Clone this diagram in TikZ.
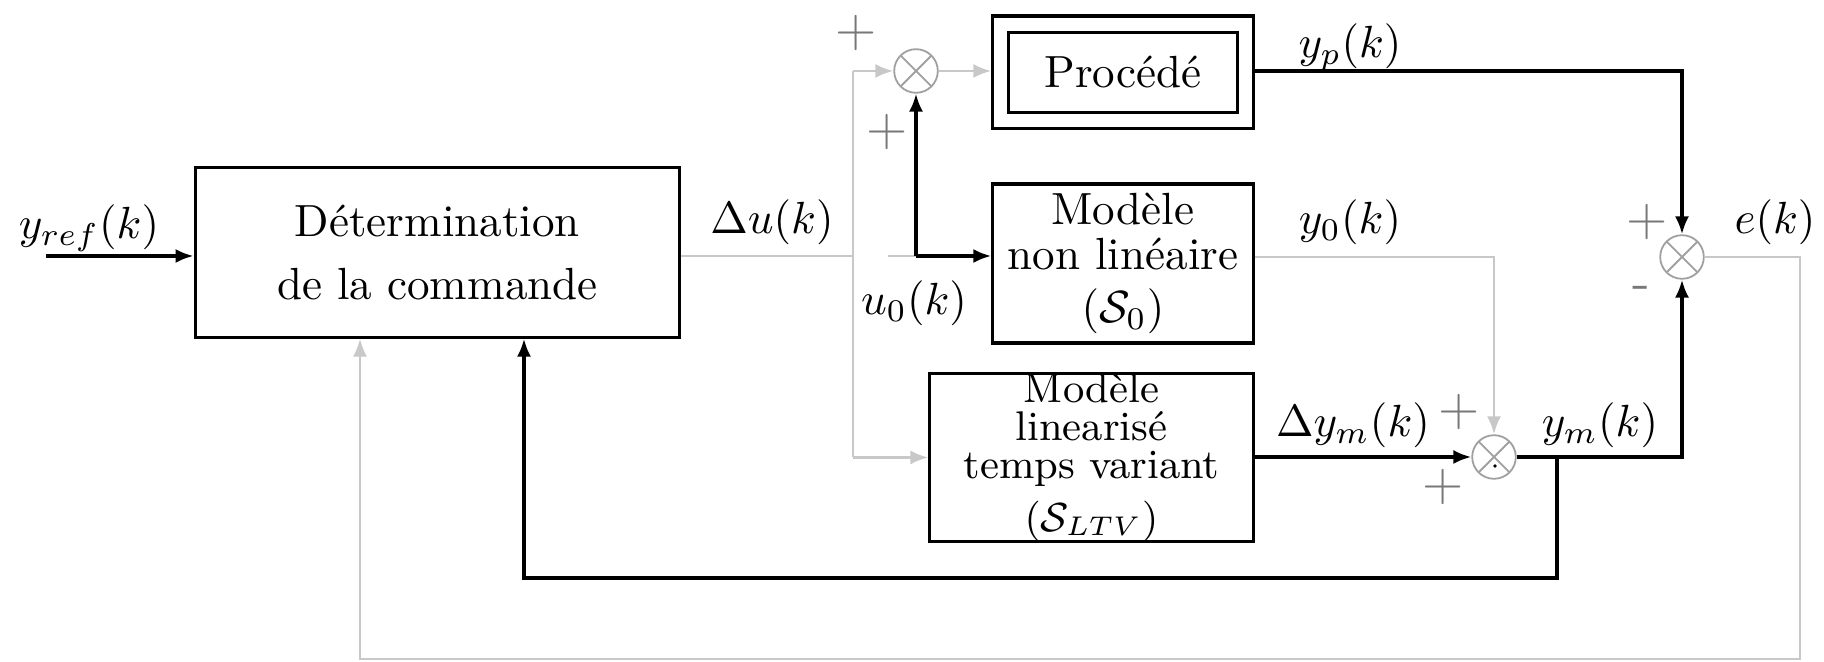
\documentclass[tikz,border=0pt]{standalone}
\usetikzlibrary{arrows.meta,calc}
\definecolor{signalColor}{RGB}{200,200,200}
\definecolor{sumColor}{RGB}{160,160,160}
\definecolor{signColor}{RGB}{120,120,120}

\begin{document}
\begin{tikzpicture}[x=0.0078cm, y=-0.0078cm,
>={Latex[length=1.4mm,width=1.1mm]},
block/.style={
    draw, line width=0.7pt, align=center, inner sep=0pt},
sumnode/.style={
    circle, draw=sumColor, minimum size=0.34cm, inner sep=0pt,
    path picture={
        \draw[sumColor] (path picture bounding box.north west)
                     -- (path picture bounding box.south east)
                        (path picture bounding box.north east)
                     -- (path picture bounding box.south west);}
},
sign/.style={text=signColor, font=\large},
wire/.style={line width=0.7pt},
grayWire/.style={signalColor, line width=0.6pt}
]

\useasboundingbox (0,0) rectangle (1824,662);

% blocs
\node[block, minimum width=3.78cm, minimum height=1.32cm,
      font=\fontsize{10}{14}\selectfont]
                                    at (437.5,252.5) (ctrl) {D\'etermination\\de la commande};
\node[block, minimum width=2.03cm, minimum height=0.88cm]
                                    at (1123,72.5) (procOut) {};
\node[block, minimum width=1.79cm, minimum height=0.62cm]
                                    at (procOut) (proc) {Proc\'ed\'e};
\node[block, minimum width=2.03cm, minimum height=1.24cm,
      font=\fontsize{10}{10}\selectfont]
                                    at (1123,263.5) (nonlin) {Mod\`ele\\non lin\'eaire\\[1.8pt]$(\mathcal{S}_0)$};
\node[block, minimum width=2.52cm, minimum height=1.27cm,
      font=\fontsize{9.2}{8.4}\selectfont]
                                    at (1091.5,457.5) (ltv) {Mod\`ele\\linearis\'e\\temps variant\\[2.2pt]$(\mathcal{S}_{LTV})$};

% sommateurs
\node[sumnode] at (916,71) (sum1) {};
\node[sumnode] at (1682,257) (sum2) {};
\node[sumnode] at (1494,457) (sum3) {};
\fill[black] (1495,466) circle (0.4pt);

\coordinate (yrefIn) at (46,256);
\coordinate (du) at (853,256);
\coordinate (u0) at (888,256);
\coordinate (u0Split) at (916,256);
\coordinate (ymSplit) at (1557,457);
\coordinate (ymBack) at (524,578);
\coordinate (eCorner) at (1800,659);
\coordinate (eBack) at (360,659);

% signaux
\draw[wire, ->] (yrefIn) -- (ctrl.west |- yrefIn);
\draw[grayWire] (ctrl.east |- du) -- (du);
\draw[grayWire] (sum1.west -| du) -- (du |- ltv.west);
\draw[grayWire, ->] (sum1.west -| du) -- (sum1.west);
\draw[grayWire, ->] (du |- ltv.west) -- (ltv.west);
\draw[grayWire, ->] (sum1.east) -- (procOut.west |- sum1.east);
\draw[grayWire] (u0) -- (u0Split);
\draw[wire, ->] (u0Split) -- (sum1.south);
\draw[wire, ->] (u0Split) -- (nonlin.west |- u0Split);
\draw[wire, ->] (procOut.east |- sum1) -| (sum2.north);
\draw[grayWire, ->] (nonlin.east |- sum2) -| (sum3.north);
\draw[wire, ->] (ltv.east |- sum3) -- (sum3.west);
\draw[wire, ->] (sum3.east) -| (sum2.south);
\draw[wire, ->] (ymSplit) |- (ymBack) -- (ymBack |- ctrl.south);
\draw[grayWire, ->] (sum2.east) -| (eCorner) -- (eBack) -- (eBack |- ctrl.south);

% etiquettes
\node at (89,228) (yrefLabel) {$y_{ref}(k)$};
\node at (772,222) (duLabel) {$\Delta u(k)$};
\node at (914,303) (u0Label) {$u_0(k)$};
\node at (1350,47) (ypLabel) {$y_p(k)$};
\node at (1350,222) (y0Label) {$y_0(k)$};
\node at (1353,425) (dymLabel) {$\Delta y_m(k)$};
\node at (1600,425) (ymLabel) {$y_m(k)$};
\node at (1775,222) (eLabel) {$e(k)$};

\node[sign] at (856,33) (plus1a) {$+$};
\node[sign] at (887,132) (plus1b) {$+$};
\node[sign] at (1647,222) (plus2) {$+$};
\node[sign] at (1641,293) (minus2) {-};
\node[sign] at (1459,412) (plus3a) {$+$};
\node[sign] at (1443,487) (plus3b) {$+$};

\end{tikzpicture}
\end{document}
